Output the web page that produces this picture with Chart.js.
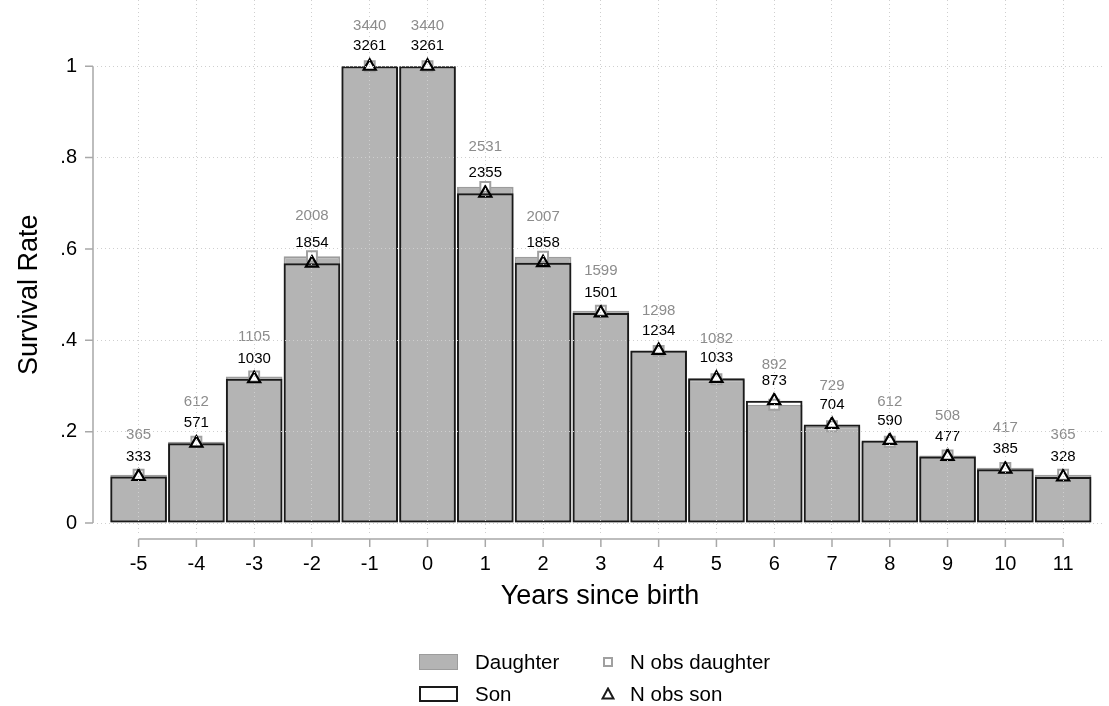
<!DOCTYPE html>
<html lang="en">
    <head>
        <meta charset="UTF-8" />
        <title>Survival Rate by Years since birth</title>
        <script src="https://cdn.jsdelivr.net/npm/chart.js"></script>
        <style>
            body {
                margin: 0;
                background: #fff;
                font-family: "Liberation Sans", Arial, sans-serif;
            }
            .wrap {
                position: relative;
                width: 1109px;
                height: 706px;
            }
            .legend-item {
                position: absolute;
                font-size: 20.5px;
                line-height: 20px;
                color: #000;
            }
            .swatch {
                position: absolute;
                box-sizing: border-box;
            }
        </style>
    </head>
    <body>
        <div class="wrap">
            <canvas id="survivalChart" width="1109" height="706"></canvas>

            <div class="swatch" style="left:419px; top:654px; width:39px; height:16px; background:#b4b4b4; border:1px solid #9c9c9c"></div>
            <div class="legend-item" style="left:475px; top:652px">Daughter</div>
            <div class="swatch" style="left:419px; top:686px; width:39px; height:16px; background:#fff; border:2px solid #1a1a1a"></div>
            <div class="legend-item" style="left:475px; top:684px">Son</div>

            <div class="swatch" style="left:603px; top:657px; width:10px; height:10px; background:#fff; border:2px solid #a0a0a0"></div>
            <div class="legend-item" style="left:630px; top:652px">N obs daughter</div>
            <svg class="swatch" style="left:601px; top:687px" width="14" height="13">
                <polygon points="7,1.5 12.5,11.5 1.5,11.5" fill="none" stroke="#1a1a1a" stroke-width="2" />
            </svg>
            <div class="legend-item" style="left:630px; top:684px">N obs son</div>
        </div>

        <script>
            const years = [-5, -4, -3, -2, -1, 0, 1, 2, 3, 4, 5, 6, 7, 8, 9, 10, 11];
            const daughterRate = [0.106, 0.178, 0.321, 0.584, 1, 1, 0.736, 0.583, 0.465, 0.377, 0.315, 0.259, 0.212, 0.178, 0.148, 0.121, 0.106];
            const sonRate = [0.102, 0.175, 0.316, 0.569, 1, 1, 0.722, 0.57, 0.46, 0.378, 0.317, 0.268, 0.216, 0.181, 0.146, 0.118, 0.101];
            const daughterN = [365, 612, 1105, 2008, 3440, 3440, 2531, 2007, 1599, 1298, 1082, 892, 729, 612, 508, 417, 365];
            const sonN = [333, 571, 1030, 1854, 3261, 3261, 2355, 1858, 1501, 1234, 1033, 873, 704, 590, 477, 385, 328];
            const yTicks = [0, 0.2, 0.4, 0.6, 0.8, 1];

            const FONT = "'Liberation Sans', Arial, sans-serif";
            const AXIS_GRAY = "#a8a8a8";

            const toPoints = (vals) => years.map((yr, i) => ({ x: yr, y: vals[i] }));

            // stata style axes, offset from the plot region, plus axis titles
            const axesPlugin = {
                id: "axes",
                afterDraw(chart) {
                    const ctx = chart.ctx;
                    const xs = chart.scales.x;
                    const ys = chart.scales.y;
                    ctx.save();
                    ctx.strokeStyle = AXIS_GRAY;
                    ctx.lineWidth = 1.5;

                    const ax = 93;
                    ctx.beginPath();
                    ctx.moveTo(ax, ys.getPixelForValue(0));
                    ctx.lineTo(ax, ys.getPixelForValue(1));
                    yTicks.forEach((t) => {
                        const py = ys.getPixelForValue(t);
                        ctx.moveTo(ax, py);
                        ctx.lineTo(ax - 8, py);
                    });
                    ctx.stroke();

                    const ay = 539;
                    ctx.beginPath();
                    ctx.moveTo(xs.getPixelForValue(years[0]), ay);
                    ctx.lineTo(xs.getPixelForValue(years[years.length - 1]), ay);
                    years.forEach((yr) => {
                        const px = xs.getPixelForValue(yr);
                        ctx.moveTo(px, ay);
                        ctx.lineTo(px, ay + 8);
                    });
                    ctx.stroke();

                    ctx.fillStyle = "#000";
                    ctx.font = "27px " + FONT;
                    ctx.textAlign = "center";
                    ctx.textBaseline = "middle";
                    ctx.fillText("Years since birth", (chart.chartArea.left + chart.chartArea.right) / 2, 597);

                    ctx.translate(30, (ys.getPixelForValue(0) + ys.getPixelForValue(1)) / 2);
                    ctx.rotate(-Math.PI / 2);
                    ctx.fillText("Survival Rate", 0, 0);
                    ctx.restore();
                },
            };

            // N obs labels above the markers
            const countLabels = {
                id: "countLabels",
                afterDatasetsDraw(chart) {
                    const ctx = chart.ctx;
                    ctx.save();
                    ctx.font = "15px " + FONT;
                    ctx.textAlign = "center";
                    ctx.textBaseline = "middle";
                    chart.getDatasetMeta(2).data.forEach((pt, i) => {
                        ctx.fillStyle = "#8c8c8c";
                        ctx.fillText(daughterN[i], pt.x, pt.y - 40);
                    });
                    chart.getDatasetMeta(3).data.forEach((pt, i) => {
                        ctx.fillStyle = "#000";
                        ctx.fillText(sonN[i], pt.x, pt.y - 20);
                    });
                    ctx.restore();
                },
            };

            new Chart(document.getElementById("survivalChart"), {
                type: "bar",
                data: {
                    datasets: [
                        {
                            label: "Daughter",
                            data: toPoints(daughterRate),
                            backgroundColor: "#b4b4b4",
                            borderColor: "#9c9c9c",
                            borderWidth: 2,
                            borderSkipped: false,
                            barPercentage: 0.98,
                            categoryPercentage: 1,
                            grouped: false,
                            order: 4,
                        },
                        {
                            label: "Son",
                            data: toPoints(sonRate),
                            backgroundColor: "rgba(0,0,0,0)",
                            borderColor: "#1a1a1a",
                            borderWidth: 2,
                            borderSkipped: false,
                            barPercentage: 0.98,
                            categoryPercentage: 1,
                            grouped: false,
                            order: 3,
                        },
                        {
                            type: "line",
                            label: "N obs daughter",
                            data: toPoints(daughterRate),
                            showLine: false,
                            pointStyle: "rect",
                            pointRadius: 7,
                            pointBackgroundColor: "#ffffff",
                            pointBorderColor: "#a0a0a0",
                            pointBorderWidth: 2,
                            order: 2,
                        },
                        {
                            type: "line",
                            label: "N obs son",
                            data: toPoints(sonRate),
                            showLine: false,
                            pointStyle: "triangle",
                            pointRadius: 7,
                            pointBackgroundColor: "rgba(0,0,0,0)",
                            pointBorderColor: "#000",
                            pointBorderWidth: 2.2,
                            order: 1,
                        },
                    ],
                },
                options: {
                    responsive: false,
                    animation: false,
                    layout: { autoPadding: false, padding: { left: 0, right: 6, top: 0, bottom: 0 } },
                    plugins: {
                        legend: { display: false },
                        tooltip: { enabled: false },
                    },
                    scales: {
                        x: {
                            type: "linear",
                            offset: false,
                            min: -5.72,
                            max: 11.69,
                            afterBuildTicks: (scale) => {
                                scale.ticks = years.map((v) => ({ value: v }));
                            },
                            afterFit: (scale) => {
                                scale.height = 171;
                                scale.paddingLeft = 0;
                                scale.paddingRight = 0;
                            },
                            ticks: {
                                font: { family: FONT, size: 20 },
                                color: "#000",
                                padding: 17,
                                maxRotation: 0,
                                autoSkip: false,
                            },
                            grid: { color: "#cfcfcf", drawTicks: false, offset: false, z: 1 },
                            border: { display: false, dash: [1, 3] },
                        },
                        y: {
                            min: -0.026,
                            max: 1.145,
                            afterBuildTicks: (scale) => {
                                scale.ticks = yTicks.map((v) => ({ value: v }));
                            },
                            afterFit: (scale) => {
                                scale.width = 97;
                                scale.paddingTop = 0;
                                scale.paddingBottom = 0;
                            },
                            ticks: {
                                font: { family: FONT, size: 20 },
                                color: "#000",
                                padding: 20,
                                callback: (v) => (v === 0 ? "0" : v === 1 ? "1" : String(+v.toFixed(1)).replace(/^0/, "")),
                            },
                            grid: { color: "#cfcfcf", drawTicks: false, z: 1 },
                            border: { display: false, dash: [1, 3] },
                        },
                    },
                },
                plugins: [axesPlugin, countLabels],
            });
        </script>
    </body>
</html>
